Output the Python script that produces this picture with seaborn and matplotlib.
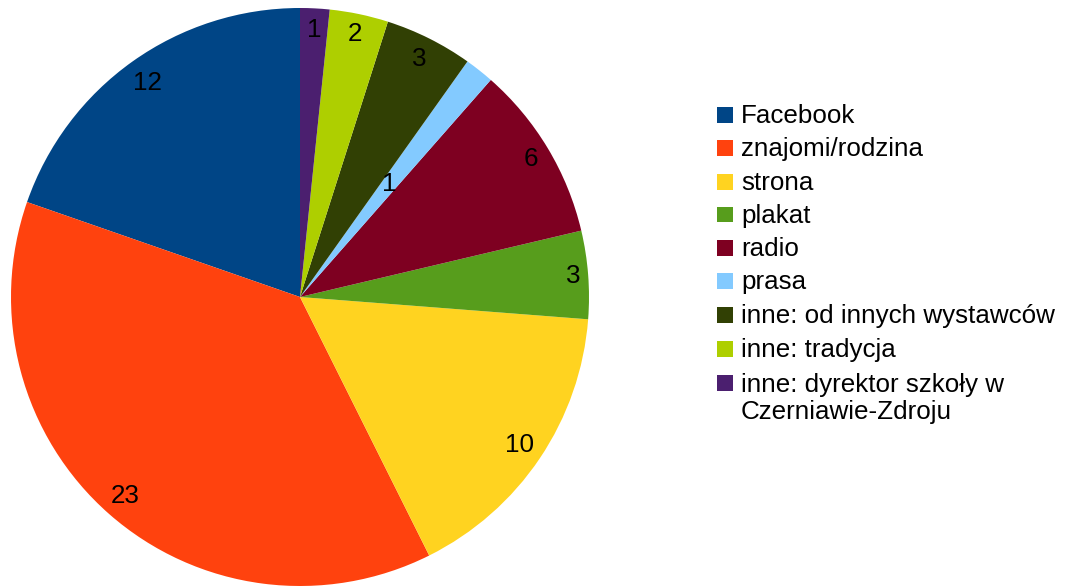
import matplotlib
matplotlib.use("Agg")
import matplotlib.pyplot as plt
import seaborn as sns
import numpy as np
from matplotlib.patches import Rectangle

sns.set_theme(style="white")
plt.rcParams['font.family'] = ['Liberation Sans', 'DejaVu Sans']

categories = ["Facebook", "znajomi/rodzina", "strona", "plakat", "radio", "prasa",
              "inne: od innych wystawców", "inne: tradycja",
              "inne: dyrektor szkoły w\nCzerniawie-Zdroju"]
values = [12, 23, 10, 3, 6, 1, 3, 2, 1]
colors = ["#004586", "#ff420e", "#ffd320", "#579d1c", "#7e0021", "#83caff",
          "#314004", "#aecf00", "#4b1f6f"]

W, H = 1065, 586
FS = 18.7
fig = plt.figure(figsize=(W / 100, H / 100), dpi=100)
cx, cy, R = 300, 297, 289
ax = fig.add_axes([(cx - R) / W, (H - cy - R) / H, 2 * R / W, 2 * R / H])

total = sum(values)
wedges, texts, autotexts = ax.pie(
    values, colors=colors, startangle=90, counterclock=True, radius=1,
    autopct=lambda p: f"{int(round(p * total / 100))}", pctdistance=0.90,
    wedgeprops=dict(linewidth=0), textprops=dict(fontsize=FS, color="black"))
ax.set_xlim(-1, 1)
ax.set_ylim(-1, 1)
ax.set_aspect("equal")
ax.axis("off")

# label radial placement (fraction of radius), like the original layout
label_dist = [0.91, 0.915, 0.915, 0.95, 0.93, 0.5, 0.92, 0.93, 0.925]
for w, t, d in zip(wedges, autotexts, label_dist):
    mid = np.deg2rad((w.theta1 + w.theta2) / 2)
    t.set_position((d * np.cos(mid), d * np.sin(mid)))

# legend
row_y = [115, 148, 182, 215, 248, 281, 315, 349, 383]
for lab, col, y in zip(categories, colors, row_y):
    fig.add_artist(Rectangle((717 / W, 1 - (y + 7.5) / H), 15.5 / W, 15.5 / H,
                             transform=fig.transFigure, facecolor=col, edgecolor="none"))
    nlines = lab.count("\n")
    fig.text(741 / W, 1 - (y + 8 + 28 * nlines) / H, lab, fontsize=FS, va="baseline",
             ha="left", linespacing=1.18, color="black")

fig.savefig("out.png", dpi=100)
